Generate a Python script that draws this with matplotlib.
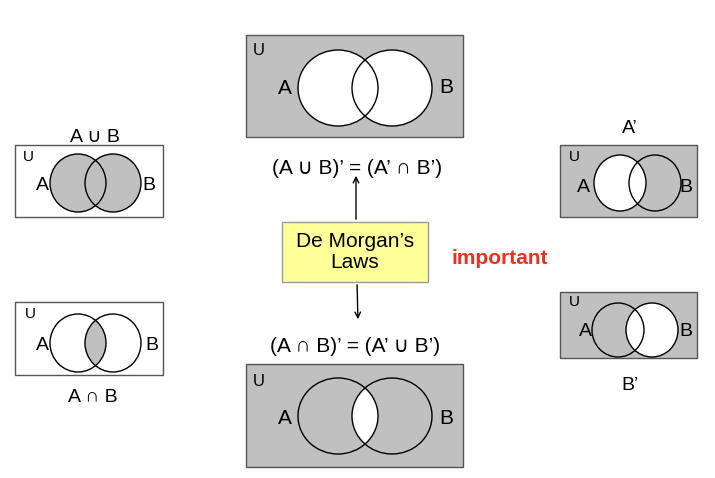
import matplotlib
matplotlib.use("Agg")
import matplotlib.pyplot as plt
from matplotlib.patches import Rectangle, Ellipse, FancyBboxPatch

plt.rcParams['font.family'] = ['Liberation Sans', 'DejaVu Sans']
GRAY = '#c0c0c0'

# panels: box(x0,y0,x1,y1), circle centers, radii, fills (bg, A, B, AB)
panels = [
    dict(box=(246, 35, 463, 137), cA=(338, 88), cB=(392, 88), r=(40, 38),
         fill=('#c0c0c0', 'white', 'white', 'white'), U=(259, 50), A=(285, 88), B=(446, 87), fs=15),
    dict(box=(246, 364, 463, 467), cA=(338, 416), cB=(392, 416), r=(40, 38),
         fill=(GRAY, GRAY, GRAY, 'white'), U=(259, 381), A=(285, 418), B=(446, 418), fs=15),
    dict(box=(15, 145, 163, 217), cA=(78, 183), cB=(113, 183), r=(28, 29),
         fill=('white', GRAY, GRAY, GRAY), U=(28, 157), A=(42, 186), B=(149, 186), fs=14),
    dict(box=(15, 302, 163, 375), cA=(78, 343), cB=(113, 343), r=(28, 29),
         fill=('white', 'white', 'white', GRAY), U=(30, 314), A=(42, 346), B=(152, 346), fs=14),
    dict(box=(560, 145, 697, 217), cA=(620, 183), cB=(655, 183), r=(26, 28),
         fill=(GRAY, 'white', GRAY, 'white'), U=(574, 157), A=(583, 187), B=(686, 187), fs=14),
    dict(box=(560, 292, 697, 358), cA=(618, 330), cB=(652, 330), r=(26, 27),
         fill=(GRAY, GRAY, 'white', 'white'), U=(574, 302), A=(585, 332), B=(686, 332), fs=14),
]
titles = [("A ∪ B", 95, 137), ("A ∩ B", 93, 398), ("A’", 630, 128), ("B’", 630, 385)]
laws = [("(A ∪ B)’ = (A’ ∩ B’)", 357, 168), ("(A ∩ B)’ = (A’ ∪ B’)", 355, 347)]

fig = plt.figure(figsize=(7.15, 4.78), dpi=100)
ax = fig.add_axes([0, 0, 1, 1])
ax.set_xlim(0, 715); ax.set_ylim(478, 0); ax.axis('off')

for p in panels:
    x0, y0, x1, y1 = p['box']
    bg, fa, fb, fab = p['fill']
    ax.add_patch(Rectangle((x0, y0), x1 - x0, y1 - y0, fc=bg, ec='#555555', lw=1))
    w, h = 2 * p['r'][0], 2 * p['r'][1]
    ea = Ellipse(p['cA'], w, h, fc=fa, ec='none')
    eb = Ellipse(p['cB'], w, h, fc=fb, ec='none')
    ax.add_patch(ea); ax.add_patch(eb)
    eab = Ellipse(p['cB'], w, h, fc=fab, ec='none')
    ax.add_patch(eab); eab.set_clip_path(Ellipse(p['cA'], w, h, transform=ax.transData))
    eab.set_clip_path(ea)
    for c in (p['cA'], p['cB']):
        ax.add_patch(Ellipse(c, w, h, fc='none', ec='black', lw=1))
    ax.text(*p['U'], 'U', fontsize=p['fs'] - 3, ha='center', va='center')
    ax.text(*p['A'], 'A', fontsize=p['fs'], ha='center', va='center')
    ax.text(*p['B'], 'B', fontsize=p['fs'], ha='center', va='center')

for t, x, y in titles:
    ax.text(x, y, t, fontsize=14, ha='center', va='center')
for t, x, y in laws:
    ax.text(x, y, t, fontsize=15, ha='center', va='center')

ax.annotate('', xy=(356, 173), xytext=(356, 222),
            arrowprops=dict(arrowstyle='->', color='black', lw=1))
ax.annotate('', xy=(358, 322), xytext=(357, 282),
            arrowprops=dict(arrowstyle='->', color='black', lw=1))
ax.add_patch(Rectangle((282, 222), 146, 60, fc='#ffff99', ec='#999999', lw=1))
ax.text(355, 252, "De Morgan’s\nLaws", fontsize=15, ha='center', va='center', linespacing=1.2)
ax.text(500, 258, "important", fontsize=15, ha='center', va='center', color='#e8321e', fontweight='bold')

fig.savefig('out.png', dpi=100)
